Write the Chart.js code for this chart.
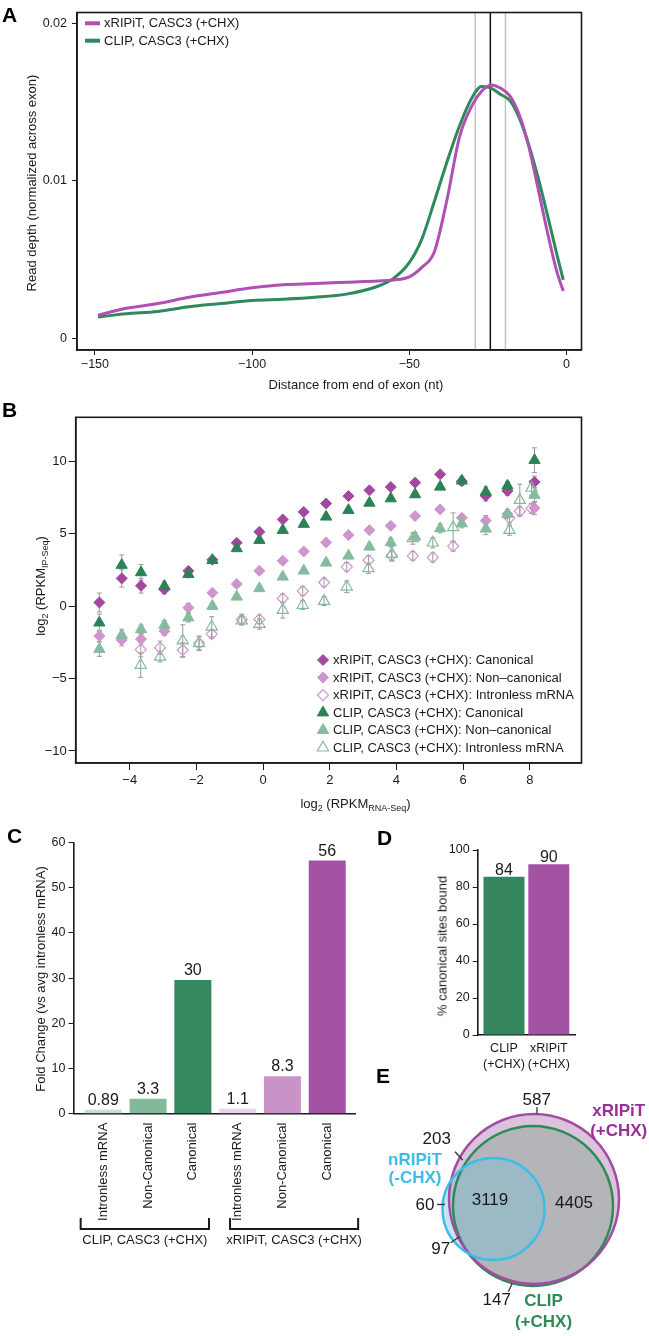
<!DOCTYPE html>
<html>
<head>
<meta charset="utf-8">
<script src="https://cdn.jsdelivr.net/npm/chart.js@4.4.1/dist/chart.umd.min.js"></script>
<style>
  body { margin: 0; background: #fff; font-family: "Liberation Sans", Arial, sans-serif; color: #1a1a1a; }
  #page { position: relative; width: 649px; height: 1336px; overflow: hidden; }
  canvas { position: absolute; }
  .txt { position: absolute; white-space: nowrap; font-size: 13px; line-height: 1; color: #1a1a1a; }
  .panel { position: absolute; font-weight: bold; font-size: 21px; line-height: 1; color: #000; }
  sub { font-size: 9px; vertical-align: -3px; line-height: 0; }
</style>
</head>
<body>
<div id="page">
  <canvas id="chA" width="649" height="400" style="left:0;top:0"></canvas>
  <canvas id="chB" width="649" height="430" style="left:0;top:390px"></canvas>
  <canvas id="chC" width="380" height="440" style="left:0;top:820px"></canvas>
  <canvas id="chD" width="269" height="255" style="left:380px;top:820px"></canvas>
  <canvas id="chE" width="269" height="261" style="left:380px;top:1075px"></canvas>

  <div class="panel" style="left:2px;top:4px">A</div>
  <div class="panel" style="left:2px;top:399px">B</div>
  <div class="panel" style="left:7px;top:825px">C</div>
  <div class="panel" style="left:377px;top:827px">D</div>
  <div class="panel" style="left:376px;top:1065px">E</div>
</div>
<script>
// ---- A: read depth profile ----
const distA = [-149,-140,-130,-120,-110,-100,-90,-80,-70,-60,-55,-50,-46,-42,-38,-34,-30,-27,-24,-21,-18,-15,-12,-9,-6,-3,-1];
const depthXripit = [0.00146,0.0019,0.0022,0.0026,0.0029,0.0032,0.0034,0.00347,0.00356,0.00364,0.0037,0.0039,0.0045,0.0055,0.0088,0.0128,0.0148,0.0157,0.0161,0.0159,0.0154,0.0142,0.0122,0.0095,0.0067,0.0042,0.0030];
const depthClip = [0.00135,0.00155,0.0017,0.0020,0.0022,0.0024,0.00248,0.0026,0.0028,0.0033,0.0038,0.0048,0.0063,0.0087,0.0112,0.0135,0.0153,0.0160,0.0159,0.0155,0.0151,0.0140,0.0123,0.0102,0.0078,0.0053,0.0037];
const seriesA = ['xRIPiT, CASC3 (+CHX)', 'CLIP, CASC3 (+CHX)'];
const refLinesA = [-29, -24.2, -19.4];
const xTicksA = [-150, -100, -50, 0];
const yTicksA = [0, 0.01, 0.02];

// ---- B: IP-seq vs RNA-seq ----
const binsB = [-4.91,-4.24,-3.66,-2.96,-2.24,-1.52,-0.79,-0.11,0.59,1.22,1.89,2.56,3.19,3.83,4.56,5.31,5.96,6.68,7.33,8.14];
const xripCanon = [0.25,1.91,1.40,1.15,2.43,3.20,4.37,5.13,5.98,6.50,7.08,7.59,7.99,8.22,8.52,9.10,8.62,7.60,7.95,8.57];
const xripCanonErr = [0.65,0.6,0.5,0.3,0.25,0.2,0.15,0.15,0.15,0.15,0.15,0.15,0.15,0.15,0.15,0.2,0.3,0.35,0.3,0.4];
const xripNonCanon = [-2.07,-2.34,-2.28,-1.72,-0.11,0.92,1.52,2.44,3.13,3.77,4.39,4.90,5.24,5.54,6.21,6.67,6.09,5.90,6.35,6.76];
const xripNonCanonErr = [0.4,0.4,0.35,0.3,0.3,0.2,0.15,0.15,0.15,0.15,0.15,0.15,0.15,0.15,0.15,0.2,0.2,0.35,0.3,0.45];
const clipCanon = [-1.15,2.83,2.32,1.38,2.20,3.17,3.98,4.55,5.24,5.66,6.16,6.62,7.12,7.42,7.70,8.23,8.65,7.88,8.30,10.07];
const clipCanonErr = [0.6,0.7,0.55,0.3,0.25,0.2,0.15,0.15,0.15,0.15,0.15,0.15,0.15,0.15,0.15,0.2,0.3,0.35,0.3,0.85];
const clipNonCanon = [-2.97,-2.00,-1.61,-1.31,-0.80,0.00,0.64,1.22,2.02,2.44,2.99,3.47,4.09,4.39,4.78,5.36,5.70,5.33,6.35,7.66];
const clipNonCanonErr = [0.5,0.4,0.3,0.3,0.3,0.2,0.15,0.15,0.15,0.2,0.2,0.2,0.2,0.3,0.3,0.3,0.3,0.4,0.3,0.5];
const binsIntronless = [-3.67,-3.09,-2.41,-1.92,-1.54,-0.64,-0.11,0.59,1.19,1.83,2.51,3.16,3.86,4.49,5.09,5.70,7.39,7.70,8.05];
const xripIntronless = [-3.0,-2.87,-3.03,-2.57,-1.93,-0.92,-0.92,0.53,1.03,1.63,2.71,3.17,3.50,3.47,3.36,4.14,6.08,6.55,6.74];
const xripIntronlessErr = [0.5,0.45,0.5,0.45,0.3,0.35,0.3,0.3,0.3,0.3,0.3,0.3,0.35,0.3,0.3,0.35,0.35,0.3,0.35];
const clipIntronless = [-4.07,-3.50,-2.39,-2.57,-1.43,-1.01,-1.24,-0.28,0.07,0.34,1.33,2.60,3.60,4.67,4.37,5.43,5.24,7.31,8.15];
const clipIntronlessErr = [0.85,0.35,1.1,0.5,0.7,0.3,0.35,0.55,0.3,0.3,0.4,0.35,0.5,0.4,0.35,1.0,0.35,1.1,0.5];
const xTicksB = [-4, -2, 0, 2, 4, 6, 8];
const yTicksB = [-10, -5, 0, 5, 10];

// ---- C: fold change ----
const catsC = ['Intronless mRNA', 'Non-Canonical', 'Canonical', 'Intronless mRNA', 'Non-Canonical', 'Canonical'];
const foldC = [0.89, 3.3, 29.6, 1.1, 8.3, 56];
const foldLabelsC = ['0.89', '3.3', '30', '1.1', '8.3', '56'];
const groupsC = ['CLIP, CASC3 (+CHX)', 'xRIPiT, CASC3 (+CHX)'];
const yTicksC = [0, 10, 20, 30, 40, 50, 60];

// ---- D: % canonical sites bound ----
const catsD = [['CLIP', '(+CHX)'], ['xRIPiT', '(+CHX)']];
const pctD = [85.6, 92.3];
const pctLabelsD = ['84', '90'];
const yTicksD = [0, 20, 40, 60, 80, 100];

// ---- E: overlap counts ----
const vennSets = [['xRIPiT', '(+CHX)'], ['CLIP', '(+CHX)'], ['nRIPiT', '(-CHX)']];
const vennCounts = [587, 203, 60, 97, 147, 3119, 4405];

const FONT = '"Liberation Sans", Arial, sans-serif';
Chart.defaults.font.family = FONT;
Chart.defaults.color = '#1a1a1a';
Chart.defaults.animation = false;
Chart.defaults.events = [];
Chart.defaults.plugins.legend.display = false;
Chart.defaults.plugins.tooltip.enabled = false;

const minus = v => String(v).replace('-', '\u2212');
const setTicks = arr => s => { s.ticks = arr.map(v => ({ value: v })); };

function addText(html, cx, cy, size, rot) {
  const d = document.createElement('div');
  d.className = 'txt';
  d.innerHTML = html;
  d.style.left = cx + 'px';
  d.style.top = cy + 'px';
  if (size) d.style.fontSize = size + 'px';
  d.style.transform = 'translate(-50%,-50%)' + (rot ? ' rotate(-90deg)' : '');
  document.getElementById('page').appendChild(d);
}

function drawMarker(ctx, style, x, y, r, fill, stroke, lw) {
  ctx.beginPath();
  if (style === 'rectRot') {
    ctx.moveTo(x, y - r); ctx.lineTo(x + r, y); ctx.lineTo(x, y + r); ctx.lineTo(x - r, y);
  } else {
    const h = Math.sin(Math.PI / 3) * r;
    ctx.moveTo(x, y - r); ctx.lineTo(x + h, y + r / 2); ctx.lineTo(x - h, y + r / 2);
  }
  ctx.closePath();
  if (fill) { ctx.fillStyle = fill; ctx.fill(); }
  if (lw) { ctx.strokeStyle = stroke; ctx.lineWidth = lw; ctx.stroke(); }
}

// box around plot area
const frame = {
  id: 'frame',
  afterDatasetsDraw(chart) {
    const { ctx, chartArea: a } = chart;
    ctx.save();
    ctx.strokeStyle = '#1a1a1a';
    ctx.lineWidth = 1.6;
    ctx.strokeRect(a.left, a.top, a.width, a.height);
    ctx.restore();
  }
};

const refLines = {
  id: 'refLines',
  beforeDatasetsDraw(chart, args, o) {
    const { ctx, chartArea: a, scales: { x } } = chart;
    ctx.save();
    ctx.lineWidth = 1.5;
    o.values.forEach((v, i) => {
      const px = x.getPixelForValue(v);
      ctx.strokeStyle = o.colors[i];
      ctx.beginPath(); ctx.moveTo(px, a.top); ctx.lineTo(px, a.bottom); ctx.stroke();
    });
    ctx.restore();
  }
};

const insetLegend = {
  id: 'insetLegend',
  afterDraw(chart, args, o) {
    const ctx = chart.ctx;
    ctx.save();
    ctx.font = o.size + 'px ' + FONT;
    ctx.textBaseline = 'middle';
    chart.data.datasets.forEach((ds, i) => {
      const y = o.y + i * o.step;
      if (o.kind === 'line') {
        ctx.strokeStyle = ds.borderColor; ctx.lineWidth = 4;
        ctx.beginPath(); ctx.moveTo(o.x, y); ctx.lineTo(o.x + o.len, y); ctx.stroke();
      } else {
        drawMarker(ctx, ds.pointStyle, o.x, y, ds.pointRadius, ds.open ? null : ds.backgroundColor, ds.borderColor, ds.borderWidth);
      }
      ctx.fillStyle = '#1a1a1a';
      ctx.fillText(ds.label, o.textX, y + 0.5);
    });
    ctx.restore();
  }
};

const errBars = {
  id: 'errBars',
  beforeDatasetsDraw(chart) {
    const { ctx, scales: { y } } = chart;
    ctx.save();
    ctx.strokeStyle = '#9a9a9a';
    ctx.lineWidth = 1;
    chart.data.datasets.forEach((ds, i) => {
      chart.getDatasetMeta(i).data.forEach((pt, j) => {
        const v = ds.data[j].y, e = ds.err[j];
        const y1 = y.getPixelForValue(v + e), y2 = y.getPixelForValue(v - e);
        ctx.beginPath();
        ctx.moveTo(pt.x, y1); ctx.lineTo(pt.x, y2);
        ctx.moveTo(pt.x - 2.5, y1); ctx.lineTo(pt.x + 2.5, y1);
        ctx.moveTo(pt.x - 2.5, y2); ctx.lineTo(pt.x + 2.5, y2);
        ctx.stroke();
      });
    });
    ctx.restore();
  }
};

const barValues = {
  id: 'barValues',
  afterDatasetsDraw(chart, args, o) {
    const ctx = chart.ctx;
    ctx.save();
    ctx.font = o.size + 'px ' + FONT;
    ctx.textAlign = 'center';
    ctx.textBaseline = 'alphabetic';
    ctx.fillStyle = '#1a1a1a';
    chart.getDatasetMeta(0).data.forEach((bar, i) => ctx.fillText(o.labels[i], bar.x, bar.y - o.gap));
    ctx.restore();
  }
};

const groupBrackets = {
  id: 'groupBrackets',
  afterDraw(chart, args, o) {
    const { ctx, chartArea: a, scales: { x } } = chart;
    ctx.save();
    ctx.strokeStyle = '#1a1a1a';
    ctx.lineWidth = 2;
    ctx.font = '13px ' + FONT;
    ctx.textAlign = 'center';
    ctx.textBaseline = 'middle';
    ctx.fillStyle = '#1a1a1a';
    o.groups.forEach((g, i) => {
      const x1 = x.getPixelForValue(o.spans[i][0]), x2 = x.getPixelForValue(o.spans[i][1]);
      const top = a.bottom + o.drop, bot = top + o.leg;
      ctx.beginPath();
      ctx.moveTo(x1, top); ctx.lineTo(x1, bot); ctx.lineTo(x2, bot); ctx.lineTo(x2, top);
      ctx.stroke();
      ctx.fillText(g, (x1 + x2) / 2, bot + o.textGap);
    });
    ctx.restore();
  }
};

const vennText = {
  id: 'vennText',
  afterDatasetsDraw(chart, args, o) {
    const { ctx, scales: { x, y } } = chart;
    const px = v => x.getPixelForValue(v), py = v => y.getPixelForValue(v);
    ctx.save();
    ctx.textAlign = 'center';
    ctx.textBaseline = 'middle';
    ctx.font = '17px ' + FONT;
    ctx.fillStyle = '#1a1a1a';
    ctx.strokeStyle = '#333';
    ctx.lineWidth = 1.3;
    vennCounts.forEach((c, i) => {
      const s = o.spots[i];
      ctx.fillText(String(c), px(s.x), py(s.y));
      if (s.lead) {
        ctx.beginPath();
        ctx.moveTo(px(s.lead[0]), py(s.lead[1])); ctx.lineTo(px(s.lead[2]), py(s.lead[3]));
        ctx.stroke();
      }
    });
    ctx.font = 'bold 17px ' + FONT;
    vennSets.forEach((lines, i) => {
      const s = o.names[i];
      ctx.fillStyle = s.color;
      lines.forEach((t, k) => ctx.fillText(t, px(s.x), py(s.y + k * s.dy)));
    });
    ctx.restore();
  }
};

const axisStyle = (extra) => Object.assign({
  grid: { drawOnChartArea: false, tickLength: 5, color: '#1a1a1a', lineWidth: 1 },
  border: { color: '#1a1a1a', width: 1.6 }
}, extra);

// ---------- A ----------
new Chart('chA', {
  type: 'line',
  data: {
    datasets: [
      { label: seriesA[0], data: distA.map((d, i) => ({ x: d, y: depthXripit[i] })), borderColor: '#b04fb4', borderWidth: 3, pointRadius: 0, cubicInterpolationMode: 'monotone' },
      { label: seriesA[1], data: distA.map((d, i) => ({ x: d, y: depthClip[i] })), borderColor: '#2c8a5c', borderWidth: 3, pointRadius: 0, cubicInterpolationMode: 'monotone' }
    ]
  },
  options: {
    responsive: false,
    devicePixelRatio: 1,
    layout: { padding: { left: 0, right: 67.5, top: 7, bottom: 0 } },
    scales: {
      x: axisStyle({ type: 'linear', min: -155.7, max: 4.8, afterBuildTicks: setTicks(xTicksA), afterFit: s => { s.height = 50; },
        ticks: { font: { size: 12.5 }, padding: 2, callback: v => minus(v) } }),
      y: axisStyle({ type: 'linear', min: -0.00075, max: 0.0207, afterBuildTicks: setTicks(yTicksA), afterFit: s => { s.width = 77; },
        ticks: { font: { size: 12.5 }, padding: 5, callback: v => v === 0 ? '0' : v.toFixed(2) } })
    },
    plugins: {
      refLines: { values: refLinesA, colors: ['#c4c4c4', '#111', '#c4c4c4'] },
      insetLegend: { kind: 'line', x: 85, y: 23.3, step: 17.4, len: 15, textX: 104, size: 13 }
    }
  },
  plugins: [refLines, frame, insetLegend]
});
addText('Distance from end of exon (nt)', 356, 384, 13);
addText('Read depth (normalized across exon)', 31, 182.5, 13, true);

// ---------- B ----------
const ptsB = (xs, ys) => xs.map((x, i) => ({ x, y: ys[i] }));
const DARK_M = '#a3479f', LIGHT_M = '#cf95cd', DARK_G = '#2b8256', LIGHT_G = '#85bb9e';
new Chart('chB', {
  type: 'scatter',
  data: {
    datasets: [
      { label: 'xRIPiT, CASC3 (+CHX): Canonical', data: ptsB(binsB, xripCanon), err: xripCanonErr, pointStyle: 'rectRot', pointRadius: 5.5, backgroundColor: DARK_M, borderColor: DARK_M, borderWidth: 1, order: 2 },
      { label: 'xRIPiT, CASC3 (+CHX): Non\u2013canonical', data: ptsB(binsB, xripNonCanon), err: xripNonCanonErr, pointStyle: 'rectRot', pointRadius: 5.5, backgroundColor: LIGHT_M, borderColor: LIGHT_M, borderWidth: 1, order: 2 },
      { label: 'xRIPiT, CASC3 (+CHX): Intronless mRNA', data: ptsB(binsIntronless, xripIntronless), err: xripIntronlessErr, open: true, pointStyle: 'rectRot', pointRadius: 5.5, backgroundColor: 'rgba(0,0,0,0)', borderColor: LIGHT_M, borderWidth: 1.2, order: 2 },
      { label: 'CLIP, CASC3 (+CHX): Canonical', data: ptsB(binsB, clipCanon), err: clipCanonErr, pointStyle: 'triangle', pointRadius: 6.5, backgroundColor: DARK_G, borderColor: DARK_G, borderWidth: 1, order: 1 },
      { label: 'CLIP, CASC3 (+CHX): Non\u2013canonical', data: ptsB(binsB, clipNonCanon), err: clipNonCanonErr, pointStyle: 'triangle', pointRadius: 6.5, backgroundColor: LIGHT_G, borderColor: LIGHT_G, borderWidth: 1, order: 1 },
      { label: 'CLIP, CASC3 (+CHX): Intronless mRNA', data: ptsB(binsIntronless, clipIntronless), err: clipIntronlessErr, open: true, pointStyle: 'triangle', pointRadius: 6.5, backgroundColor: 'rgba(0,0,0,0)', borderColor: LIGHT_G, borderWidth: 1.2, order: 1 }
    ]
  },
  options: {
    responsive: false,
    devicePixelRatio: 1,
    layout: { padding: { left: 0, right: 67.5, top: 27.3, bottom: 0 } },
    scales: {
      x: axisStyle({ type: 'linear', min: -5.62, max: 9.55, afterBuildTicks: setTicks(xTicksB), afterFit: s => { s.height = 57; },
        grid: { drawOnChartArea: false, tickLength: 7, color: '#1a1a1a' },
        ticks: { font: { size: 13 }, padding: 3, callback: v => minus(v) } }),
      y: axisStyle({ type: 'linear', min: -10.83, max: 13.03, afterBuildTicks: setTicks(yTicksB), afterFit: s => { s.width = 75.7; },
        grid: { drawOnChartArea: false, tickLength: 7, color: '#1a1a1a' },
        ticks: { font: { size: 13 }, padding: 2, callback: v => minus(v) } })
    },
    plugins: {
      insetLegend: { kind: 'point', x: 323, y: 270, step: 17.55, textX: 333, size: 13 }
    }
  },
  plugins: [errBars, frame, insetLegend]
});
addText('log<sub>2</sub> (RPKM<sub>IP-Seq</sub>)', 39.5, 586, 13, true);
addText('log<sub>2</sub> (RPKM<sub>RNA-Seq</sub>)', 355.5, 803, 13);

// ---------- C ----------
new Chart('chC', {
  type: 'bar',
  data: {
    datasets: [{
      data: foldC.map((v, i) => ({ x: i + 1, y: v })),
      backgroundColor: ['#c4dfcf', '#82b99b', '#358760', '#ecd3ea', '#c993c7', '#a452a3'],
      categoryPercentage: 1, barPercentage: 0.826
    }]
  },
  options: {
    responsive: false,
    devicePixelRatio: 1,
    layout: { padding: { left: 0, right: 25, top: 22.5, bottom: 0 } },
    scales: {
      x: axisStyle({ type: 'linear', min: 0.335, max: 6.62, offset: false, afterBuildTicks: setTicks(catsC.map((c, i) => i + 1)), afterFit: s => { s.height = 146.3; },
        grid: { drawOnChartArea: false, drawTicks: false },
        ticks: { autoSkip: false, minRotation: 90, maxRotation: 90, padding: 9, font: { size: 13 }, callback: v => catsC[Math.round(v) - 1] } }),
      y: axisStyle({ min: 0, max: 60, afterBuildTicks: setTicks(yTicksC), afterFit: s => { s.width = 73.5; },
        ticks: { font: { size: 12.5 }, padding: 3 } })
    },
    plugins: {
      barValues: { labels: foldLabelsC, size: 16, gap: 5 },
      groupBrackets: { groups: groupsC, spans: [[0.495, 3.36], [3.83, 6.69]], drop: 104.3, leg: 11, textGap: 11 }
    }
  },
  plugins: [barValues, groupBrackets]
});
addText('Fold Change (vs avg intronless mRNA)', 40, 978.5, 13, true);

// ---------- D ----------
new Chart('chD', {
  type: 'bar',
  data: {
    datasets: [{
      data: pctD.map((v, i) => ({ x: i + 1, y: v })),
      backgroundColor: ['#35855f', '#a452a3'],
      categoryPercentage: 1, barPercentage: 0.915
    }]
  },
  options: {
    responsive: false,
    devicePixelRatio: 1,
    layout: { padding: { left: 0, right: 74, top: 30, bottom: 0 } },
    scales: {
      x: axisStyle({ type: 'linear', min: 0.413, max: 2.585, offset: false, afterBuildTicks: setTicks([1, 2]), afterFit: s => { s.height = 40; },
        grid: { drawOnChartArea: false, drawTicks: false },
        ticks: { autoSkip: false, maxRotation: 0, padding: 5, font: { size: 12.5, lineHeight: 1.33 }, callback: v => catsD[Math.round(v) - 1] } }),
      y: axisStyle({ min: 0, max: 100, afterBuildTicks: setTicks(yTicksD), afterFit: s => { s.width = 97.7; },
        ticks: { font: { size: 12.5 }, padding: 3 } })
    },
    plugins: { barValues: { labels: pctLabelsD, size: 16, gap: 2 } }
  },
  plugins: [barValues]
});
addText('% canonical sites bound', 441.7, 946, 13, true);

// ---------- E ----------
// circle geometry in the panel's own units (layout, not data); scale is 1 unit = 1 px
const vennLayout = [{ x: 154, y: 124, r: 85 }, { x: 153, y: 131, r: 80 }, { x: 113.5, y: 134, r: 51 }];
const circle = (i, fill, stroke, order) => ({
  data: [vennLayout[i]], backgroundColor: fill,
  borderColor: stroke || 'rgba(0,0,0,0)', borderWidth: stroke ? 2.5 : 0, order, clip: false
});
new Chart('chE', {
  type: 'bubble',
  data: {
    datasets: [
      circle(0, '#dcc3dd', null, 6),
      circle(1, '#b3b5b9', null, 5),
      circle(2, 'rgba(125,190,218,0.42)', null, 4),
      circle(1, 'rgba(0,0,0,0)', '#2e8b57', 3),
      circle(0, 'rgba(0,0,0,0)', '#a34da2', 2),
      circle(2, 'rgba(0,0,0,0)', '#3bbde9', 1)
    ]
  },
  options: {
    responsive: false,
    devicePixelRatio: 1,
    layout: { padding: 0, autoPadding: false },
    scales: {
      x: { type: 'linear', min: 0, max: 269, display: false },
      y: { type: 'linear', min: 0, max: 261, reverse: true, display: false }
    },
    plugins: {
      vennText: {
        spots: [
          { x: 156.7, y: 25, lead: [157, 32, 157, 38.5] },
          { x: 56.7, y: 64.3, lead: [75, 76.7, 82.7, 85] },
          { x: 45, y: 130, lead: [57, 129.5, 65, 129.5] },
          { x: 60.7, y: 174.3, lead: [70.7, 167.7, 79.3, 161.7] },
          { x: 116.7, y: 225.7, lead: [128.3, 216.7, 132.3, 208.3] },
          { x: 110, y: 125.7 },
          { x: 194, y: 128.3 }
        ],
        names: [
          { x: 238.7, y: 36.7, dy: 20, color: '#9b2d9b' },
          { x: 163.5, y: 226.7, dy: 21, color: '#2e8b57' },
          { x: 35, y: 85, dy: 18.3, color: '#3bbde9' }
        ]
      }
    }
  },
  plugins: [vennText]
});
</script>
</body>
</html>
